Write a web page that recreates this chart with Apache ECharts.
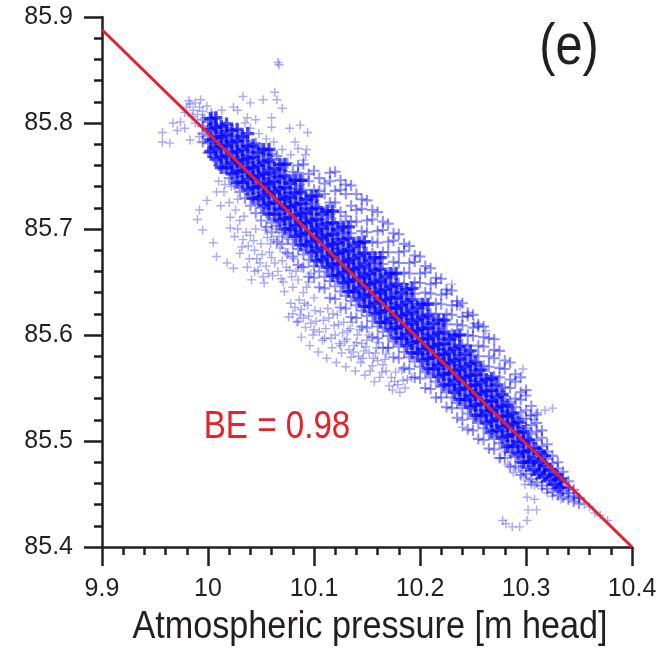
<!DOCTYPE html>
<html>
<head>
<meta charset="utf-8">
<script src="https://cdn.jsdelivr.net/npm/echarts@6/dist/echarts.min.js"></script>
<style>html,body{margin:0;padding:0;background:#fff}#c{width:664px;height:653px}</style>
</head>
<body>
<div id="c"></div>
<script>
// ---- axis settings ----
const xMin = 9.9, xMax = 10.4, yMin = 85.4, yMax = 85.9, step = 0.1;
const xName = 'Atmospheric pressure [m head]';
const panelLabel = '(e)';
const beLabel = 'BE = 0.98';

// ---- fitted line (end points) ----
const fitLine = [[9.9, 85.888], [10.4, 85.400]];

// ---- main band: columns [x, y1, y2, ...] ----
const bandCols = [
[9.995,85.782,85.790,85.797,85.803],
[10.000,85.772,85.781,85.788,85.795,85.801],
[10.005,85.768,85.777,85.784,85.791,85.799],
[10.010,85.760,85.770,85.778,85.786,85.793],
[10.015,85.757,85.765,85.772,85.780,85.788,85.796],
[10.020,85.748,85.758,85.766,85.774,85.782,85.791],
[10.025,85.742,85.752,85.760,85.768,85.776,85.785],
[10.030,85.735,85.745,85.754,85.762,85.770,85.779,85.787],
[10.035,85.729,85.740,85.750,85.757,85.765,85.774,85.783],
[10.040,85.722,85.733,85.743,85.751,85.759,85.767,85.777],
[10.045,85.715,85.727,85.738,85.746,85.754,85.762,85.772,85.781],
[10.050,85.708,85.720,85.731,85.740,85.748,85.756,85.765,85.776],
[10.055,85.702,85.715,85.726,85.735,85.743,85.751,85.760,85.770],
[10.060,85.697,85.706,85.720,85.729,85.737,85.745,85.754,85.766,85.771],
[10.065,85.688,85.703,85.714,85.724,85.732,85.740,85.749,85.756,85.769],
[10.070,85.686,85.697,85.709,85.719,85.727,85.735,85.744,85.755,85.761],
[10.075,85.677,85.692,85.704,85.714,85.722,85.730,85.739,85.747,85.762],
[10.080,85.674,85.686,85.698,85.708,85.717,85.725,85.734,85.746,85.754],
[10.085,85.666,85.681,85.693,85.703,85.712,85.720,85.729,85.738,85.753,85.760],
[10.090,85.664,85.676,85.688,85.698,85.707,85.715,85.724,85.737,85.746,85.761],
[10.095,85.655,85.671,85.683,85.693,85.702,85.710,85.719,85.728,85.745,85.752],
[10.100,85.654,85.665,85.678,85.688,85.697,85.705,85.714,85.727,85.737,85.755],
[10.105,85.645,85.660,85.673,85.683,85.692,85.700,85.709,85.719,85.736,85.748],
[10.110,85.644,85.655,85.668,85.678,85.687,85.695,85.705,85.716,85.733,85.743],
[10.115,85.635,85.651,85.663,85.673,85.682,85.690,85.700,85.714,85.725,85.745,85.753],
[10.120,85.634,85.646,85.658,85.668,85.677,85.686,85.696,85.706,85.725,85.736,85.754],
[10.125,85.626,85.641,85.653,85.663,85.672,85.681,85.691,85.705,85.716,85.737,85.746],
[10.130,85.625,85.637,85.649,85.659,85.668,85.677,85.687,85.697,85.712,85.733,85.742],
[10.135,85.617,85.632,85.644,85.654,85.663,85.672,85.682,85.696,85.707,85.722,85.741],
[10.140,85.616,85.628,85.640,85.650,85.659,85.668,85.678,85.688,85.707,85.718,85.733],
[10.145,85.608,85.623,85.635,85.645,85.654,85.663,85.673,85.687,85.698,85.719,85.728],
[10.150,85.607,85.618,85.630,85.640,85.649,85.658,85.668,85.678,85.697,85.708,85.727],
[10.155,85.598,85.613,85.625,85.635,85.644,85.653,85.663,85.677,85.688,85.709,85.718],
[10.160,85.597,85.608,85.620,85.630,85.639,85.648,85.658,85.668,85.687,85.698,85.716],
[10.165,85.588,85.603,85.615,85.625,85.634,85.643,85.653,85.667,85.678,85.699,85.707],
[10.170,85.588,85.599,85.611,85.621,85.630,85.639,85.649,85.659,85.678,85.688,85.705],
[10.175,85.579,85.594,85.606,85.616,85.625,85.634,85.644,85.658,85.669,85.689,85.696],
[10.180,85.578,85.589,85.601,85.611,85.620,85.629,85.639,85.649,85.668,85.678,85.695],
[10.185,85.569,85.584,85.596,85.606,85.615,85.624,85.634,85.648,85.659,85.679,85.686],
[10.190,85.568,85.579,85.591,85.601,85.610,85.619,85.629,85.639,85.658,85.668,85.684],
[10.195,85.560,85.575,85.587,85.597,85.606,85.615,85.625,85.639,85.650,85.669,85.675],
[10.200,85.559,85.570,85.582,85.592,85.601,85.610,85.620,85.630,85.649,85.658,85.674],
[10.205,85.550,85.565,85.577,85.587,85.596,85.605,85.615,85.629,85.640,85.659,85.665],
[10.210,85.549,85.560,85.572,85.582,85.591,85.600,85.610,85.620,85.639,85.648,85.663],
[10.215,85.541,85.556,85.568,85.578,85.587,85.596,85.606,85.620,85.630,85.649,85.654],
[10.220,85.541,85.551,85.563,85.573,85.582,85.591,85.601,85.611,85.629,85.638,85.653],
[10.225,85.532,85.546,85.558,85.568,85.577,85.586,85.596,85.610,85.620,85.639,85.643],
[10.230,85.531,85.541,85.553,85.563,85.572,85.581,85.591,85.601,85.619,85.628,85.642],
[10.235,85.522,85.536,85.548,85.558,85.567,85.576,85.586,85.600,85.610,85.628,85.632],
[10.240,85.520,85.531,85.543,85.553,85.562,85.571,85.581,85.591,85.609,85.617,85.630],
[10.245,85.511,85.526,85.538,85.548,85.557,85.566,85.576,85.590,85.600,85.618,85.621],
[10.250,85.510,85.521,85.533,85.543,85.552,85.561,85.571,85.581,85.599,85.607,85.619],
[10.255,85.502,85.517,85.529,85.539,85.548,85.557,85.567,85.580,85.590,85.608,85.610],
[10.260,85.501,85.512,85.524,85.534,85.543,85.552,85.562,85.571,85.589,85.598,85.608],
[10.265,85.493,85.507,85.519,85.529,85.538,85.547,85.557,85.570,85.580,85.597],
[10.270,85.492,85.502,85.514,85.524,85.533,85.542,85.552,85.561,85.578,85.586,85.596],
[10.275,85.484,85.498,85.509,85.519,85.528,85.537,85.547,85.560,85.569,85.585],
[10.280,85.484,85.493,85.504,85.514,85.523,85.532,85.542,85.551,85.568,85.576],
[10.285,85.476,85.489,85.500,85.509,85.518,85.527,85.537,85.550,85.558,85.574],
[10.290,85.476,85.485,85.495,85.504,85.513,85.522,85.532,85.540,85.556,85.563],
[10.295,85.468,85.480,85.490,85.499,85.508,85.517,85.527,85.539,85.546,85.560],
[10.300,85.469,85.476,85.486,85.494,85.503,85.512,85.521,85.529,85.543,85.548],
[10.305,85.464,85.472,85.481,85.489,85.498,85.507,85.515,85.524,85.533],
[10.310,85.461,85.468,85.477,85.485,85.493,85.501,85.509,85.517,85.525],
[10.315,85.458,85.465,85.473,85.480,85.488,85.495,85.503,85.510],
[10.320,85.455,85.462,85.469,85.476,85.483,85.490,85.497],
[10.325,85.452,85.459,85.466,85.472,85.479,85.486],
[10.330,85.449,85.456,85.462,85.468,85.474,85.480],
[10.335,85.447,85.453,85.459,85.465,85.471],
[10.340,85.445,85.451,85.456,85.462],
[10.345,85.443,85.448,85.454],
[10.350,85.441,85.446]
];

// ---- dense core: columns [x, y1, y2, ...] ----
const coreCols = [
[10.0025,85.773,85.784,85.794,85.804],
[10.0075,85.766,85.776,85.786,85.796,85.805],
[10.0125,85.758,85.768,85.778,85.787,85.797],
[10.0175,85.758,85.769,85.779,85.789,85.799],
[10.0225,85.752,85.762,85.772,85.782,85.793],
[10.0275,85.744,85.754,85.764,85.773,85.783,85.794],
[10.0325,85.744,85.755,85.765,85.775,85.787],
[10.0375,85.737,85.747,85.757,85.767,85.778,85.790],
[10.0425,85.729,85.739,85.749,85.758,85.768,85.779],
[10.0475,85.729,85.740,85.750,85.760,85.772],
[10.0525,85.722,85.732,85.742,85.752,85.763,85.775],
[10.0575,85.714,85.724,85.734,85.743,85.753,85.764,85.775],
[10.0625,85.714,85.725,85.735,85.745,85.757],
[10.0675,85.708,85.718,85.728,85.738,85.749,85.761],
[10.0725,85.700,85.710,85.720,85.729,85.739,85.750,85.761],
[10.0775,85.700,85.711,85.721,85.731,85.743],
[10.0825,85.693,85.703,85.713,85.723,85.734,85.746],
[10.0875,85.685,85.695,85.705,85.714,85.724,85.735,85.746],
[10.0925,85.685,85.696,85.706,85.716,85.728],
[10.0975,85.678,85.688,85.698,85.708,85.719,85.731],
[10.1025,85.670,85.680,85.690,85.699,85.709,85.720,85.731],
[10.1075,85.671,85.682,85.692,85.702,85.714],
[10.1125,85.664,85.674,85.684,85.694,85.705,85.717],
[10.1175,85.656,85.666,85.676,85.685,85.695,85.706,85.717],
[10.1225,85.656,85.667,85.677,85.687,85.699],
[10.1275,85.649,85.659,85.669,85.679,85.690,85.702],
[10.1325,85.641,85.651,85.661,85.670,85.680,85.691,85.702],
[10.1375,85.641,85.652,85.662,85.672,85.684],
[10.1425,85.634,85.644,85.654,85.664,85.675,85.687],
[10.1475,85.627,85.637,85.647,85.656,85.666,85.677,85.688],
[10.1525,85.627,85.638,85.648,85.658,85.670],
[10.1575,85.620,85.630,85.640,85.650,85.661,85.673],
[10.1625,85.612,85.622,85.632,85.641,85.651,85.662,85.673],
[10.1675,85.612,85.623,85.633,85.643,85.655],
[10.1725,85.605,85.615,85.625,85.635,85.646,85.658],
[10.1775,85.597,85.607,85.617,85.626,85.636,85.647,85.658],
[10.1825,85.597,85.608,85.618,85.628,85.640],
[10.1875,85.590,85.600,85.610,85.620,85.631,85.643],
[10.1925,85.583,85.593,85.603,85.612,85.622,85.633,85.644],
[10.1975,85.583,85.594,85.604,85.614,85.626],
[10.2025,85.576,85.586,85.596,85.606,85.617,85.629],
[10.2075,85.568,85.578,85.588,85.597,85.607,85.618,85.629],
[10.2125,85.568,85.579,85.589,85.599,85.611],
[10.2175,85.561,85.571,85.581,85.591,85.602,85.614],
[10.2225,85.553,85.563,85.573,85.582,85.592,85.603,85.614],
[10.2275,85.553,85.564,85.574,85.584,85.596],
[10.2325,85.546,85.556,85.566,85.576,85.587,85.599],
[10.2375,85.539,85.549,85.559,85.568,85.578,85.589,85.600],
[10.2425,85.539,85.550,85.560,85.570,85.582],
[10.2475,85.532,85.542,85.552,85.562,85.573,85.585],
[10.2525,85.524,85.534,85.544,85.553,85.563,85.574],
[10.2575,85.524,85.535,85.545,85.555,85.567],
[10.2625,85.517,85.527,85.537,85.547,85.558],
[10.2675,85.509,85.519,85.529,85.538,85.548,85.559],
[10.2725,85.510,85.521,85.531,85.541,85.553],
[10.2775,85.503,85.513,85.523,85.533,85.544],
[10.2825,85.495,85.505,85.515,85.524,85.534],
[10.2875,85.495,85.506,85.516,85.526],
[10.2925,85.488,85.498,85.508,85.518],
[10.2975,85.480,85.490,85.500,85.509],
[10.3025,85.480,85.491,85.501],
[10.3075,85.473,85.483,85.493],
[10.3125,85.470,85.480,85.489],
[10.3175,85.467,85.477,85.486],
[10.3225,85.464,85.473],
[10.3275,85.459,85.468],
[10.3325,85.456,85.464]
];

// ---- sparse groups [x, y] ----
const topLeftCluster = [[9.980,85.815],[9.983,85.818],[9.986,85.812],[9.988,85.819],[9.990,85.808],[9.992,85.815],[9.985,85.806],[9.995,85.811],[9.997,85.805],[9.982,85.821],[9.993,85.822],[9.999,85.816],[10.003,85.810],[10.007,85.804],[9.988,85.800],[9.978,85.810]];
const leftPoints = [[9.957,85.791],[9.957,85.782],[9.964,85.781],[9.967,85.800],[9.974,85.801],[9.971,85.793],[9.983,85.784],[9.978,85.795],[9.992,85.787],[10.002,85.775]];
const topLoop = [[10.004,85.808],[10.013,85.812],[10.024,85.815],[10.028,85.812],[10.033,85.825],[10.037,85.805],[10.040,85.819],[10.052,85.822],[10.063,85.829],[10.065,85.822],[10.070,85.814],[10.060,85.805],[10.060,85.796],[10.077,85.795],[10.087,85.798],[10.094,85.791],[10.093,85.775],[10.090,85.765],[10.082,85.782]];
const outliers = [[10.066,85.857],[10.067,85.855]];
const upperFringe = [[10.040,85.795],[10.048,85.790],[10.055,85.785],[10.035,85.800],[10.062,85.782],[10.070,85.775],[10.078,85.770],[10.045,85.803],[10.085,85.776],[10.092,85.770],[10.238,85.627],[10.251,85.611],[10.297,85.568],[10.230,85.648],[10.262,85.604]];
const leftLoop = [[9.992,85.718],[9.990,85.709],[9.995,85.699],[10.005,85.687],[10.008,85.674],[10.018,85.668],[10.024,85.663],[9.999,85.727],[10.008,85.735],[10.021,85.711],[10.021,85.701],[10.025,85.693],[10.016,85.742]];
const innerGap = [[10.010,85.745],[10.015,85.735],[10.020,85.725],[10.026,85.718],[10.012,85.722],[10.022,85.740],[10.030,85.708],[10.028,85.728]];
const leftLobe = [[10.044,85.680],[10.053,85.649],[10.037,85.664],[10.030,85.677],[10.060,85.673],[10.044,85.660],[10.033,85.690],[10.040,85.694],[10.046,85.672],[10.050,85.686],[10.055,85.665],[10.058,85.678],[10.062,85.690],[10.066,85.660],[10.070,85.670],[10.068,85.682],[10.074,85.664],[10.052,85.655],[10.041,85.652],
[10.028,85.700],[10.034,85.712],[10.038,85.684],[10.045,85.700],[10.049,85.668],[10.056,85.692],[10.061,85.656],[10.064,85.700],[10.071,85.650],[10.076,85.690],[10.080,85.645],[10.083,85.660],[10.090,85.640],[10.095,85.650],[10.100,85.635],[10.072,85.641],[10.079,85.655],
[10.032,85.683],[10.036,85.697],[10.039,85.672],[10.043,85.689],[10.047,85.661],[10.051,85.676],[10.054,85.699],[10.057,85.658],[10.059,85.686],[10.063,85.668],[10.067,85.693],[10.069,85.653],[10.073,85.678],[10.077,85.661],[10.081,85.672],[10.085,85.652],[10.088,85.664],[10.093,85.645],[10.097,85.658]];
const lowerLobe = [[10.080,85.620],[10.084,85.612],[10.088,85.624],[10.092,85.607],[10.095,85.618],[10.099,85.600],[10.102,85.613],[10.106,85.622],[10.108,85.595],[10.111,85.606],[10.114,85.616],[10.117,85.588],[10.120,85.600],[10.123,85.610],[10.126,85.583],[10.129,85.594],[10.132,85.604],[10.135,85.579],[10.138,85.590],[10.141,85.600],[10.144,85.574],[10.147,85.585],[10.150,85.595],[10.153,85.566],[10.156,85.578],[10.159,85.588],[10.162,85.560],[10.165,85.572],[10.168,85.582],[10.171,85.552],[10.174,85.548],[10.177,85.565],[10.181,85.546],[10.184,85.557],[10.088,85.598],[10.096,85.590],[10.104,85.584],[10.112,85.578],[10.121,85.574],[10.130,85.570],[10.139,85.566],[10.148,85.562],[10.157,85.556],[10.078,85.630],[10.086,85.633],[10.094,85.628],[10.076,85.617],[10.085,85.613],[10.240,85.513],
[10.090,85.616],[10.100,85.605],[10.110,85.597],[10.118,85.620],[10.127,85.602],[10.136,85.612],[10.145,85.592],[10.152,85.583],[10.160,85.576],[10.168,85.566],[10.176,85.556],[10.186,85.550],[10.192,85.560],[10.142,85.580],[10.133,85.586],[10.124,85.592],
[10.082,85.626],[10.087,85.619],[10.091,85.630],[10.097,85.611],[10.101,85.623],[10.105,85.603],[10.109,85.614],[10.113,85.625],[10.116,85.597],[10.119,85.609],[10.122,85.619],[10.125,85.590],[10.128,85.612],[10.131,85.596],[10.134,85.606],[10.137,85.584],[10.140,85.593],[10.143,85.605],[10.146,85.578],[10.149,85.589],[10.152,85.600],[10.155,85.571],[10.158,85.583],[10.161,85.593],[10.164,85.565],[10.167,85.577],[10.170,85.588],[10.173,85.560],[10.179,85.553],[10.183,85.567],[10.188,85.558]];
const spikeArm = [[10.290,85.518],[10.297,85.521],[10.304,85.524],[10.311,85.527],[10.318,85.529],[10.325,85.531],[10.300,85.515],[10.308,85.520]];
const hook = [[10.297,85.472],[10.299,85.459],[10.301,85.447],[10.302,85.435],[10.301,85.425],[10.294,85.419],[10.287,85.419],[10.281,85.422],[10.278,85.425],[10.305,85.459],[10.308,85.445],[10.310,85.435]];
const lowerRight = [[10.283,85.478],[10.288,85.470],[10.293,85.474],[10.298,85.466],[10.303,85.462],[10.308,85.458],[10.286,85.486],[10.280,85.490],[10.276,85.484],[10.341,85.456],[10.351,85.446],[10.360,85.438],[10.370,85.430],[10.377,85.425],[10.346,85.447],[10.355,85.440],[10.365,85.432],[10.338,85.450],[10.333,85.445],[10.325,85.448],[10.320,85.451],[10.315,85.455]];

function flattenCols(cols){
  const out = [];
  cols.forEach(c => { for (let i = 1; i < c.length; i++) out.push([c[0], c[i]]); });
  return out;
}
const sparsePoints = [].concat(topLeftCluster, leftPoints, topLoop, outliers, upperFringe,
  leftLoop, innerGap, leftLobe, lowerLobe, spikeArm, hook, lowerRight);

const AX = '#231f20';
const RED = '#e8202a';
const FONT = "'Liberation Sans', Arial, sans-serif";
const plusPath = a => { const p = 5 - a / 2, q = 5 + a / 2;
  return `path://M${p},0H${q}V${p}H10V${q}H${q}V10H${p}V${q}H0V${p}H${p}Z`; };

const chart = echarts.init(document.getElementById('c'), null, {renderer: 'canvas'});
chart.setOption({
  animation: false,
  backgroundColor: '#fff',
  grid: {left: 102, right: 32, top: 17, bottom: 106, containLabel: false, outerBoundsMode: 'none'},
  xAxis: {
    type: 'value', min: xMin, max: xMax, interval: step,
    axisLine: {show: true, onZero: false, lineStyle: {color: AX, width: 2.5}},
    axisTick: {show: true, inside: false, length: 19, lineStyle: {color: AX, width: 2.5}},
    minorTick: {show: true, splitNumber: 5, length: 8, lineStyle: {color: AX, width: 2.5}},
    splitLine: {show: false}, minorSplitLine: {show: false},
    axisLabel: {margin: 30, fontFamily: FONT, fontSize: 25, color: AX,
      formatter: v => String(Math.round(v * 10) / 10)}
  },
  yAxis: {
    type: 'value', min: yMin, max: yMax, interval: step,
    axisLine: {show: true, onZero: false, lineStyle: {color: AX, width: 2.5}},
    axisTick: {show: true, inside: false, length: 18, lineStyle: {color: AX, width: 2.5}},
    minorTick: {show: true, splitNumber: 5, length: 8, lineStyle: {color: AX, width: 2.5}},
    splitLine: {show: false}, minorSplitLine: {show: false},
    axisLabel: {margin: 29, fontFamily: FONT, fontSize: 25, color: AX,
      formatter: v => (Math.round(v * 10) / 10).toFixed(1)}
  },
  series: [
    {type: 'scatter', name: 'sparse', data: sparsePoints, symbol: plusPath(1.6), symbolSize: 9,
      itemStyle: {color: 'rgba(0,0,255,0.42)'}, z: 2, silent: true},
    {type: 'scatter', name: 'band', data: flattenCols(bandCols), symbol: plusPath(1.9), symbolSize: 11,
      itemStyle: {color: 'rgba(0,0,255,0.55)'}, z: 2, silent: true},
    {type: 'scatter', name: 'core', data: flattenCols(coreCols), symbol: plusPath(2.6), symbolSize: 13,
      itemStyle: {color: 'rgba(0,0,255,0.9)'}, z: 2, silent: true},
    {type: 'line', data: fitLine, showSymbol: false, symbol: 'none',
      lineStyle: {color: RED, width: 3}, z: 3, silent: true}
  ],
  graphic: [
    {type: 'text', x: 370, y: 628, scaleX: 0.9, style: {text: xName, fontFamily: FONT, fontSize: 38, fill: AX, textAlign: 'center', textVerticalAlign: 'middle'}},
    {type: 'text', x: 569, y: 48, scaleX: 0.84, style: {text: panelLabel, fontFamily: FONT, fontSize: 58, fill: AX, textAlign: 'center', textVerticalAlign: 'middle'}},
    {type: 'text', x: 277, y: 427, scaleX: 0.85, style: {text: beLabel, fontFamily: FONT, fontSize: 39, fill: RED, textAlign: 'center', textVerticalAlign: 'middle'}}
  ]
});
</script>
</body>
</html>
